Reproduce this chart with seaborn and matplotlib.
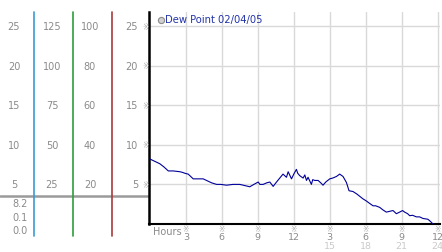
import matplotlib
matplotlib.use("Agg")
import matplotlib.pyplot as plt
import seaborn as sns
import pandas as pd

sns.set_style("white")
plt.rcParams['font.family'] = ['DejaVu Sans']

# ---- data ----
hours = [0.0, 0.28, 0.56, 0.83, 1.17, 1.53, 1.94, 2.5, 2.75, 2.92, 3.19, 3.61,
         4.17, 4.44, 4.72, 5.14, 5.56, 5.92, 6.39, 6.92, 7.5, 7.92, 8.33, 8.67,
         9.03, 9.17, 9.44, 9.75, 10.0, 10.28, 10.56, 10.83, 11.1, 11.39, 11.53,
         11.81, 12.0, 12.22, 12.33, 12.5, 12.78, 12.92, 13.06, 13.19, 13.47,
         13.58, 13.75, 14.03, 14.25, 14.44, 14.67, 15.0, 15.25, 15.56, 15.83,
         16.11, 16.39, 16.61, 16.94, 17.25, 17.5, 17.75, 18.06, 18.33, 18.61,
         18.83, 19.17, 19.42, 19.72, 20.0, 20.28, 20.56, 20.83, 21.08, 21.25,
         21.5, 21.67, 21.92, 22.22, 22.5, 22.78, 23.19, 23.42, 23.61]
dew_point = [8.2, 8.0, 7.8, 7.6, 7.2, 6.7, 6.7, 6.6, 6.5, 6.4, 6.3, 5.7,
             5.7, 5.7, 5.5, 5.2, 5.0, 5.0, 4.9, 5.0, 5.0, 4.85, 4.7, 5.0,
             5.3, 5.0, 5.0, 5.2, 5.3, 4.75, 5.3, 5.8, 6.3, 5.9, 6.6,
             5.7, 6.3, 6.9, 6.4, 6.1, 5.8, 6.2, 5.5, 5.9, 5.0,
             5.6, 5.5, 5.5, 5.2, 4.9, 5.3, 5.7, 5.8, 6.0, 6.3,
             6.0, 5.25, 4.2, 4.1, 3.8, 3.5, 3.2, 2.9, 2.6, 2.3,
             2.3, 2.1, 1.8, 1.5, 1.6, 1.7, 1.3, 1.5, 1.7, 1.5,
             1.3, 1.05, 1.1, 0.9, 0.9, 0.7, 0.6, 0.3, 0.0]

y_ticks = [5, 10, 15, 20, 25]
scale_a = ["5", "10", "15", "20", "25"]
scale_b = ["25", "50", "75", "100", "125"]
scale_c = ["20", "40", "60", "80", "100"]
x_ticks = [3, 6, 9, 12, 15, 18, 21, 24]
x_labels = ["3", "6", "9", "12", "3", "6", "9", "12"]
x_labels2 = ["", "", "", "", "15", "18", "21", "24"]
stats = ["8.2", "0.1", "0.0"]
legend_label = "Dew Point 02/04/05"

df = pd.DataFrame({"hour": hours, "dew": dew_point})

W, H = 442, 253
fig = plt.figure(figsize=(W / 100, H / 100), dpi=100)
fig.patch.set_facecolor("white")

def fx(px):
    return px / W

def fy(py):
    return 1 - py / H

ax_left, ax_right, ax_top, ax_bot = 149, 440, 13, 225
ah = ax_bot - ax_top
ax = fig.add_axes([fx(ax_left), fy(ax_bot), fx(ax_right - ax_left), ah / H])
ymax = (225 - 13) / 7.92
ax.set_ylim(0, ymax)
ax.set_xlim(-0.08, 24.2)

def ay(py):
    # pixel row -> axes fraction
    return (ax_bot - py) / ah

def axf(px):
    return (px - ax_left) / (ax_right - ax_left)

# grid
for t in x_ticks:
    ax.axvline(t, color="#d9d9d9", lw=1, zorder=0)
for t in y_ticks:
    ax.axhline(t, color="#d9d9d9", lw=1, zorder=0)

sns.lineplot(data=df, x="hour", y="dew", ax=ax, color="#000099", lw=0.8, zorder=3)

for s in ["top", "right"]:
    ax.spines[s].set_visible(False)
ax.spines["left"].set_color("black")
ax.spines["left"].set_linewidth(1.8)
ax.spines["bottom"].set_color("black")
ax.spines["bottom"].set_linewidth(1.5)
ax.set_xlabel("")
ax.set_ylabel("")
ax.set_xticks([])
ax.set_yticks([])

gray = "#8a8a8a"
lgray = "#cacaca"
mark = "#a8a8a8"
fs = 7

# x labels
xt = ax.get_xaxis_transform()
for t, l1, l2 in zip(x_ticks, x_labels, x_labels2):
    ax.text(t, ay(229.5), "※", transform=xt, ha="center", va="center", fontsize=5.5, color=mark, clip_on=False)
    ax.text(t, ay(238), l1, transform=xt, ha="center", va="center", fontsize=6.8, color=gray, clip_on=False)
    if l2:
        ax.text(t, ay(246.5), l2, transform=xt, ha="center", va="center", fontsize=6.8, color=lgray, clip_on=False)
ax.text(axf(153), ay(232), "Hours", transform=ax.transAxes, ha="left", va="center", fontsize=fs, color=gray, clip_on=False)

# legend
ax.scatter([axf(160.5)], [ay(20.5)], transform=ax.transAxes, s=20, color="#d0d0d0", edgecolor="#8a8a8a", lw=0.8, clip_on=False, zorder=5)
ax.text(axf(165), ay(20.5), legend_label, transform=ax.transAxes, ha="left", va="center", fontsize=7.2, color="#2233aa")

# left panel with scales, sharing y scale
axl = fig.add_axes([0, fy(ax_bot), fx(ax_left), ah / H], sharey=ax)
axl.set_xlim(0, ax_left)
axl.axis("off")
for t, a, b, c in zip(y_ticks, scale_a, scale_b, scale_c):
    axl.text(14, t, a, ha="center", va="center", fontsize=fs, color=gray)
    axl.text(52, t, b, ha="center", va="center", fontsize=fs, color=gray)
    axl.text(90, t, c, ha="center", va="center", fontsize=fs, color=gray)
    axl.text(138, t, a, ha="right", va="center", fontsize=fs, color=gray)
    axl.text(145, t, "※", ha="center", va="center", fontsize=5.5, color=mark)

# vertical colored lines and separator (figure coords)
for xp, col in [(33.5, "#3a9ad6"), (72.5, "#2e9e3a"), (111.5, "#a83a3a")]:
    fig.add_artist(plt.Line2D([fx(xp), fx(xp)], [fy(237), fy(13)], color=col, lw=1.2))
fig.add_artist(plt.Line2D([0, fx(149)], [fy(197), fy(197)], color="#9a9a9a", lw=1.8, zorder=0))
for i, s in enumerate(stats):
    fig.text(fx(28), fy(204.5 + 13.3 * i), s, ha="right", va="center", fontsize=fs, color=gray)

fig.savefig("out.png", dpi=100, facecolor="white")
